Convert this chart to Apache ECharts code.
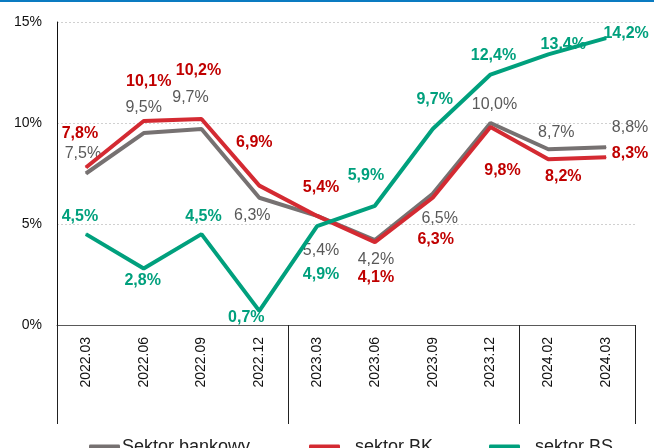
<!DOCTYPE html>
<html>
<head>
<meta charset="utf-8">
<script src="https://cdn.jsdelivr.net/npm/echarts@6/dist/echarts.min.js"></script>
<style>
  html, body { margin: 0; padding: 0; background: #fff; }
  #main { width: 654px; height: 448px; }
</style>
</head>
<body>
<div id="main"></div>
<script>
// dane
var categories = ['2022.03', '2022.06', '2022.09', '2022.12', '2023.03', '2023.06', '2023.09', '2023.12', '2024.02', '2024.03'];
var sektorBankowy = [7.5, 9.5, 9.7, 6.3, 5.4, 4.2, 6.5, 10.0, 8.7, 8.8];
var sektorBK = [7.8, 10.1, 10.2, 6.9, 5.4, 4.1, 6.3, 9.8, 8.2, 8.3];
var sektorBS = [4.5, 2.8, 4.5, 0.7, 4.9, 5.9, 9.7, 12.4, 13.4, 14.2];
var yTicks = [0, 5, 10, 15];
// granice grup lat (w jednostkach kategorii)
var groupBounds = [0, 4, 8, 10];

// przesuniecia etykiet wzgledem punktu
var offGray = [[-3, -20], [0, -26], [-11, -31], [-7, 18], [4, 35], [1, 19], [7, 25], [4, -18], [8, -17], [24, -20]];
var offRed = [[-6, -34], [5, -39], [-3, -48], [-5, -43], [4, -28], [1, 35], [3, 42], [12, 44], [15, 17], [24, -4]];
var offGreen = [[-6, -18], [-1, 12], [2, -18], [-13, 7], [4, 49], [-9, -30], [2, -29], [3, -19], [15, -10], [20, -5]];

var colGray = '#767171', colRed = '#d42a32', colGreen = '#00a07d';

function fmt(v) {
    return v.toFixed(1).replace('.', ',') + '%';
}

function buildData(values, offsets) {
    var out = [];
    for (var i = 0; i < values.length; i++) {
        out.push({
            value: values[i],
            label: { offset: offsets[i] }
        });
    }
    return out;
}

function makeSeries(name, values, offsets, lineColor, labelColor, bold, z) {
    return {
        name: name,
        type: 'line',
        data: buildData(values, offsets),
        symbol: 'circle',
        symbolSize: 1,
        z: z,
        color: lineColor,
        lineStyle: { color: lineColor, width: 4 },
        itemStyle: { color: lineColor },
        label: {
            show: true,
            position: 'inside',
            color: labelColor,
            fontSize: 16,
            fontWeight: bold ? 'bold' : 'normal',
            fontFamily: 'Liberation Sans',
            formatter: function (p) { return fmt(p.value); }
        },
        emphasis: { disabled: true },
        animation: false
    };
}

function makeLegend(left, name, color, gap) {
    return {
        left: left,
        top: 433,
        itemWidth: 31,
        itemHeight: 5,
        icon: 'roundRect',
        itemStyle: { color: color, borderWidth: 0 },
        data: [{ name: name, icon: 'roundRect', itemStyle: { color: color } }],
        textStyle: { fontSize: 18, color: '#222', fontFamily: 'Liberation Sans', padding: [0, 0, 0, gap] }
    };
}

var chart = echarts.init(document.getElementById('main'));

var option = {
    backgroundColor: '#fff',
    animation: false,
    graphic: [{
        type: 'line',
        shape: { x1: 0, y1: 1, x2: 654, y2: 1 },
        style: { stroke: '#0a7bc1', lineWidth: 2 }
    }],
    legend: [
        makeLegend(84, 'Sektor bankowy', colGray, -3),
        makeLegend(304, 'sektor BK', colRed, 10),
        makeLegend(484, 'sektor BS', colGreen, 10)
    ],
    grid: { left: 57, right: 19, top: 22, bottom: 123, containLabel: false },
    xAxis: [{
        type: 'category',
        data: categories,
        boundaryGap: true,
        axisLine: { lineStyle: { color: '#595959', width: 1 } },
        axisTick: { show: false },
        axisLabel: {
            rotate: 90,
            margin: 12,
            fontSize: 14,
            color: '#111',
            fontFamily: 'Liberation Sans'
        }
    }, {
        type: 'value',
        position: 'bottom',
        min: 0,
        max: 10,
        axisLine: { show: false },
        splitLine: { show: false },
        axisLabel: { show: false },
        axisTick: {
            show: true,
            customValues: groupBounds,
            length: 99,
            inside: false,
            lineStyle: { color: '#222', width: 1 }
        }
    }],
    yAxis: {
        type: 'value',
        min: 0,
        max: 15,
        interval: 5,
        axisLine: { show: true, lineStyle: { color: '#111', width: 1 } },
        axisTick: { show: false },
        axisLabel: {
            margin: 15,
            fontSize: 14,
            color: '#111',
            fontFamily: 'Liberation Sans',
            formatter: function (v) { return yTicks.indexOf(v) >= 0 ? v + '%' : ''; }
        },
        splitLine: { show: true, lineStyle: { color: '#d0d0d0', type: [2, 2], width: 1 } }
    },
    series: [
        makeSeries('Sektor bankowy', sektorBankowy, offGray, colGray, '#595959', false, 3),
        makeSeries('sektor BK', sektorBK, offRed, colRed, '#c00000', true, 4),
        makeSeries('sektor BS', sektorBS, offGreen, colGreen, colGreen, true, 5)
    ]
};

chart.setOption(option);
</script>
</body>
</html>
